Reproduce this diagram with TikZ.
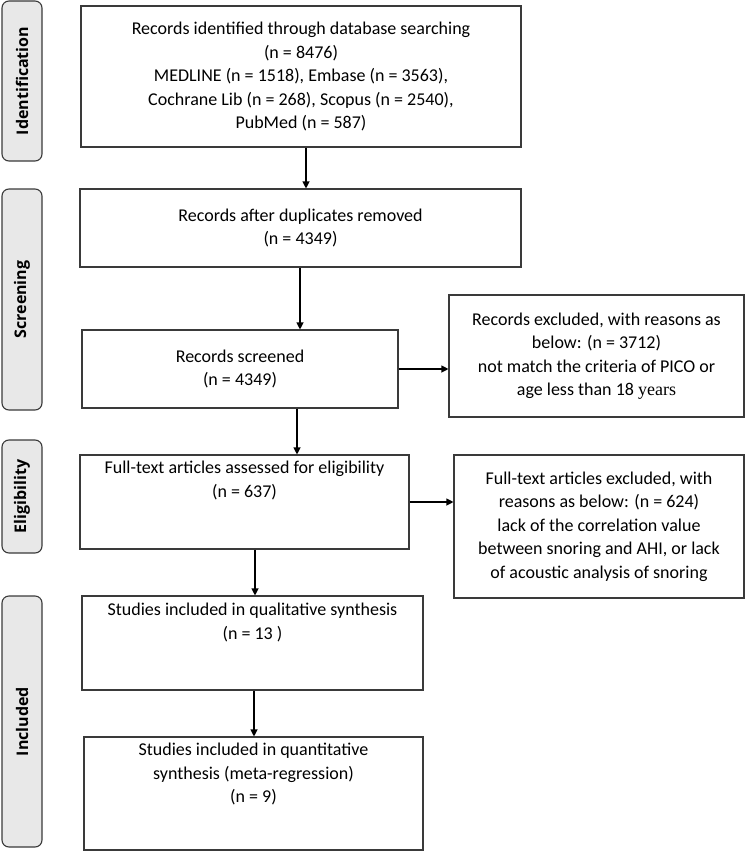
\documentclass[tikz,border=0pt]{standalone}
\usepackage{fontspec}
\setmainfont{Carlito}
\newfontfamily\sidefont{Open Sans}
\usetikzlibrary{arrows.meta}
\definecolor{sidefill}{HTML}{E8E8E8}
\definecolor{edge}{HTML}{3A3A3A}
\newcommand{\ctrbox}[7]{%
  \node[box, minimum width={(#4-#2)*1pt}, minimum height={(#5-#3)*1pt}] (#1) at ({(#2+#4)/2},{(#3+#5)/2}) {#6};}
\newcommand{\topbox}[7]{%
  \node[box, inner sep=0pt] (#1) at ({(#2+#4)/2},{(#3+#5)/2})
   {\begin{minipage}[c][\dimexpr #5pt-#3pt\relax][t]{\dimexpr #4pt-#2pt\relax}\centering\vspace*{#7pt}#6\end{minipage}};}
\tikzset{
  x=1pt, y=-1pt,
  box/.style={draw=edge, line width=1.1pt, align=center, font=\fontsize{18}{23.5}\selectfont, inner sep=0pt},
  side/.style={draw=edge, fill=sidefill, line width=1.1pt, rounded corners=7pt, minimum width=40pt, inner sep=0pt},
  sidetxt/.style={rotate=90, font=\sidefont\bfseries\fontsize{16}{18}\selectfont},
  arr/.style={-{Triangle[length=7pt,width=7pt]}, line width=1.1pt, draw=black}
}
\begin{document}
\begin{tikzpicture}
\useasboundingbox (0,0) rectangle (745,851);
% side labels
\node[side, minimum height=160pt] (sid) at (22,81) {};
\node[sidetxt] (sidt) at (sid.center) {Identification};
\node[side, minimum height=221pt] (ssc) at (22,299.5) {};
\node[sidetxt] (ssct) at (ssc.center) {Screening};
\node[side, minimum height=113pt] (sel) at (22,496.5) {};
\node[sidetxt] (selt) at (sel.center) {Eligibility};
\node[side, minimum height=251pt] (sin) at (22,721.5) {};
\node[sidetxt] (sint) at (sin.center) {Included};
% boxes
\ctrbox{b1}{81}{6}{521}{147}{Records identified through database searching\\(n = 8476)\\MEDLINE (n = 1518), Embase (n = 3563),\\Cochrane Lib (n = 268), Scopus (n = 2540),\\PubMed (n = 587)}{}
\ctrbox{b2}{80}{189}{521}{267}{Records after duplicates removed\\(n = 4349)}{}
\ctrbox{b3}{82}{330}{398}{408}{Records screened\\(n = 4349)}{}
\topbox{b4}{80}{455}{409}{549}{Full-text articles assessed for eligibility\\(n = 637)}{6}
\topbox{b5}{82}{596}{423}{690}{Studies included in qualitative synthesis\\(n = 13 )}{7}
\topbox{b6}{84}{737}{423}{850}{Studies included in quantitative\\synthesis (meta-regression)\\(n = 9)}{6}
\ctrbox{r1}{449}{295}{744}{417}{Records excluded, with reasons as\\below: (n = 3712)\\not match the criteria of PICO or\\age less than 18 {\fontspec{Liberation Serif}years}}{}
\ctrbox{r2}{454}{455}{744}{598}{Full-text articles excluded, with\\reasons as below: (n = 624)\\lack of the correlation value\\between snoring and AHI, or lack\\of acoustic analysis of snoring}{}
% arrows
\draw[arr] (b1.south -| 306,0) -- (b2.north -| 306,0);
\draw[arr] (b2.south -| 300,0) -- (b3.north -| 300,0);
\draw[arr] (b3.south -| 297,0) -- (b4.north -| 297,0);
\draw[arr] (b4.south -| 255,0) -- (b5.north -| 255,0);
\draw[arr] (b5.south -| 254,0) -- (b6.north -| 254,0);
\draw[arr] (b3.east |- 0,369) -- (r1.west |- 0,369);
\draw[arr] (b4.east |- 0,502) -- (r2.west |- 0,502);
\end{tikzpicture}
\end{document}
